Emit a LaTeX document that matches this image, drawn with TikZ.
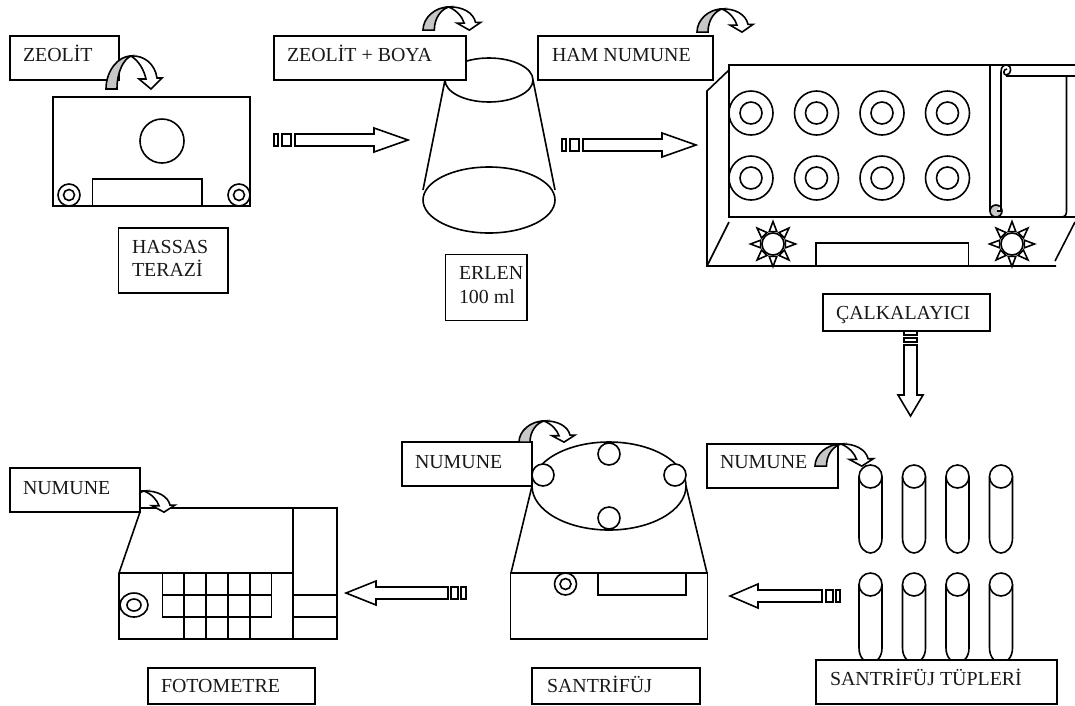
\documentclass[tikz,border=0pt]{standalone}
\usepackage{fontspec}
\setmainfont{Liberation Serif}
\definecolor{curlgray}{gray}{0.78}
\tikzset{
  ln/.style={line width=1.6pt,line join=miter,black},
  boxst/.style={draw,ln,fill=white,anchor=north west,inner sep=0pt,outer sep=0pt},
  txt/.style={anchor=base west,inner sep=0pt,outer sep=0pt,font=\fontsize{19.9}{22}\selectfont,text=black!90}
}
% name, x, y, w, h
\newcommand\lbox[5]{\node[boxst,minimum width=#4pt,minimum height=#5pt] (#1) at (#2,#3) {};}
\newcommand\curl[5]{\begin{scope}[shift={(#2,#3)},xscale=#4,yscale=#5]
  \draw[ln,fill=white] (25,0) .. controls (38,-1) and (49,8) .. (51,22) -- (56,22) -- (45,33) -- (33,23) -- (40,23) .. controls (38,14) and (33,5) .. (25,0) -- cycle;
  \draw[ln,fill=curlgray] (0,33) .. controls (0,15) and (12,0) .. (25,0) .. controls (18,3) and (11,15) .. (11,33) -- cycle;
  \coordinate (#1) at (25,0);
\end{scope}}
\newcommand\tube[3]{\begin{scope}[shift={(#1,#2)}]
  \draw[ln,fill=white] (-11.5,11.5) -- (-11.5,#3-15) .. controls (-11.5,#3-5) and (-5,#3) .. (0,#3) .. controls (5,#3) and (11.5,#3-5) .. (11.5,#3-15) -- (11.5,11.5);
  \draw[ln,fill=white] (0,11.5) circle[radius=11.5];
\end{scope}}
\newcommand\sun[2]{\begin{scope}[shift={(#1,#2)}]
  \foreach \a in {0,45,...,315}{
    \draw[ln,fill=white] (\a:22.5) -- (\a-17:13) -- (\a+17:13) -- cycle;}
  \draw[ln,fill=white] (0,0) circle[radius=11];
\end{scope}}
\newcommand\ring[3]{\draw[ln,fill=white] (#1,#2) circle[radius=#3]; \draw[ln] (#1,#2) circle[radius=#3/2];}
\begin{document}
\begin{tikzpicture}[x=1pt,y=-1pt]
\useasboundingbox[fill=white] (0,0) rectangle (1075,705);

% ---------- balance
\draw[ln] (53,97) rectangle (250,206);
\draw[ln] (162,141) circle[radius=22];
\draw[ln] (92.5,206) -- (92.5,179) -- (202,179) -- (202,206);
\ring{69}{195}{11}
\ring{239}{195}{11}
\lbox{zeolit}{10}{36}{109}{44}
\node[txt] (zeolitt) at (23,61) {ZEOLİT};
\curl{c1}{106}{56}{1}{1}
\lbox{hassas}{118.5}{228}{109.5}{65}
\node[txt] (hassast) at (132,253) {HASSAS};
\node[txt] (terazit) at (132,276) {TERAZİ};

% ---------- arrow 1
\draw[ln,fill=white] (274,134) rectangle (278,146);
\draw[ln,fill=white] (282,134) rectangle (291,146);
\draw[ln,fill=white] (295,134) -- (374,134) -- (374,128) -- (408,140) -- (374,152) -- (374,146) -- (295,146) -- cycle;

% ---------- erlen
\draw[ln] (489,80) ellipse[x radius=44,y radius=22];
\draw[ln] (489,200) ellipse[x radius=66,y radius=33];
\draw[ln] (445,80) -- (423,190);
\draw[ln] (533,80) -- (555,190);
\lbox{boya}{274}{36}{192}{44}
\node[txt] (boyat) at (287,61) {ZEOLİT + BOYA};
\curl{c2}{423}{7}{1.03}{0.7}
\lbox{erlen}{445.5}{254.5}{81.5}{66}
\node[txt] (erlent) at (459,279) {ERLEN};
\node[txt] (mlt) at (459,303) {100 ml};

% ---------- arrow 2
\draw[ln,fill=white] (562,139) rectangle (566,151);
\draw[ln,fill=white] (570,139) rectangle (579,151);
\draw[ln,fill=white] (583,139) -- (662,139) -- (662,133) -- (696,145) -- (662,157) -- (662,151) -- (583,151) -- cycle;

% ---------- shaker
\draw[ln] (1075,65) -- (729,65) -- (729,217) -- (1075,217);
\draw[ln] (729,70) -- (707,91) -- (707,266) -- (1056,266);
\draw[ln] (729,222) -- (707,266);
\draw[ln] (1075,222) -- (1055,261);
\foreach \px in {751,816.5,882,947.5}\foreach \py in {113,178}{\ring{\px}{\py}{22}}
\draw[ln] (816,266) -- (816,243) -- (968.5,243) -- (968.5,266);
\sun{773}{244}
\sun{1012}{244}
% scroll panel
\draw[ln] (990,65) -- (990,211);
\draw[ln] (1001,72) .. controls (1001,66) and (1004,65) .. (1007,65) .. controls (1012,65) and (1012,75) .. (1006,75) .. controls (1003,75) and (1003,69) .. (1007,69);
\draw[ln] (1001,72) -- (1001,211);
\draw[ln] (1006,76) -- (1075,76);
\draw[ln] (1066.5,76) -- (1066.5,211) .. controls (1066.5,215) and (1065,217) .. (1061,217);
\draw[ln,fill=curlgray] (996,211) circle[radius=6];
\draw[ln,fill=white] (1001,205) -- (1001,211) -- (997,211);
\lbox{ham}{538}{36}{175}{44}
\node[txt] (hamt) at (552,61) {HAM NUMUNE};
\curl{c3}{697}{9}{1}{0.7}
\lbox{calk}{823}{294}{167}{37}
\node[txt] (calkt) at (836,319) {ÇALKALAYICI};

% ---------- arrow 3 (down)
\draw[ln,fill=white] (904,331) rectangle (917,335);
\draw[ln,fill=white] (904,338) rectangle (917,342);
\draw[ln,fill=white] (904,345) -- (904,395) -- (898,395) -- (910.5,416) -- (923,395) -- (917,395) -- (917,345) -- cycle;

% ---------- tubes
\foreach \tx in {870.5,914,957.5,1001}{\tube{\tx}{465}{88}\tube{\tx}{573}{90}}
\lbox{tubes}{816}{660}{241}{44}
\node[txt] (tubest) at (830,685) {SANTRİFÜJ TÜPLERİ};
\lbox{num3}{707}{444}{131}{44}
\node[txt] (num3t) at (720,468) {NUMUNE};
\curl{c6}{815}{444}{1.04}{0.67}

% ---------- arrow 4
\draw[ln,fill=white] (836,590) rectangle (840,602);
\draw[ln,fill=white] (826,590) rectangle (833,602);
\draw[ln,fill=white] (822,590) -- (758,590) -- (758,584) -- (730,596) -- (758,608) -- (758,602) -- (822,602) -- cycle;

% ---------- centrifuge
\draw[ln] (532,486) -- (511,573);
\draw[ln] (686,486) -- (707,573);
\draw[ln] (510.5,573) rectangle (707.5,639);
\draw[ln,fill=white] (609,486) ellipse[x radius=77,y radius=44];
\foreach \cx/\cy in {543/475,609/454,675/475,609/518}{\draw[ln,fill=white] (\cx,\cy) circle[radius=11];}
\draw[ln] (598,573) rectangle (686,595);
\ring{565.5}{584}{11}
\lbox{num2}{402}{442}{130}{44}
\node[txt] (num2t) at (415,468) {NUMUNE};
\curl{c5}{519}{421}{1}{0.64}
\lbox{sant}{532}{668}{168}{36}
\node[txt] (santt) at (547,692) {SANTRİFÜJ};

% ---------- arrow 5
\draw[ln,fill=white] (461,587) rectangle (466,599);
\draw[ln,fill=white] (451,587) rectangle (458,599);
\draw[ln,fill=white] (448,587) -- (376,587) -- (376,581) -- (346,593) -- (376,605) -- (376,599) -- (448,599) -- cycle;

% ---------- photometer
\draw[ln] (140,508) -- (337,508) -- (337,639) -- (119,639) -- (119,573) -- (140,512);
\draw[ln] (119,573) -- (293,573);
\draw[ln] (293,508) -- (293,639);
\draw[ln] (293,595) -- (337,595);
\draw[ln] (293,617) -- (337,617);
\draw[ln] (162.5,573) rectangle (271.5,617);
\draw[ln] (162.5,595) -- (271.5,595);
\foreach \gx in {184,206,228,250}{\draw[ln] (\gx,573) -- (\gx,639);}
\draw[ln] (134,605) ellipse[x radius=14,y radius=12];
\draw[ln] (134,605) ellipse[x radius=7,y radius=6];
\curl{c4}{119}{491}{1}{0.64}
\lbox{num1}{10}{468}{130}{44}
\node[txt] (num1t) at (23,494) {NUMUNE};
\lbox{foto}{148}{668}{167}{36}
\node[txt] (fotot) at (161,692) {FOTOMETRE};
\end{tikzpicture}
\end{document}
